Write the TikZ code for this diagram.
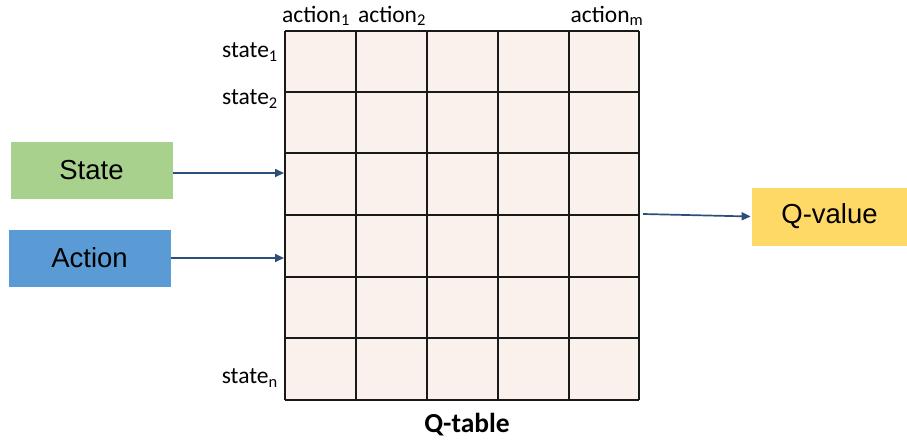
\documentclass[tikz,border=0pt]{standalone}
\usepackage{fontspec}
\setmainfont{Carlito}
\newfontfamily\boxfont{Liberation Sans}
\usetikzlibrary{arrows.meta}
\definecolor{cellfill}{RGB}{251,241,236}
\definecolor{stategreen}{RGB}{169,209,142}
\definecolor{actionblue}{RGB}{91,155,213}
\definecolor{qyellow}{RGB}{255,217,102}
\definecolor{arrowblue}{RGB}{44,78,120}
\tikzset{
  inbox/.style={draw=white, line width=0.8pt, minimum width=163pt, minimum height=58pt,
    inner sep=0pt, font=\boxfont\fontsize{27.5}{30}\selectfont},
  flow/.style={draw=arrowblue, line width=1.7pt, -{Triangle[length=9pt,width=8pt]}},
  gridline/.style={draw=black!90, line width=1.6pt},
  lbl/.style={font=\fontsize{23.5}{26}\selectfont, inner sep=0pt}
}
\begin{document}
\begin{tikzpicture}[x=1pt,y=-1pt]
\useasboundingbox (0,0) rectangle (907,445);
% table body
\fill[cellfill] (285,31) rectangle (639,400);
\foreach \x in {285,356,427,498,569,639} \draw[gridline] (\x,31) -- (\x,400);
\foreach \y in {31,92,153,215,277,338,400} \draw[gridline] (285,\y) -- (639,\y);
\coordinate (tabS) at (284,173);
\coordinate (tabA) at (284,258);
\coordinate (tabQ) at (643,214);
% column and row headings
\node[lbl] (a1) at (316,16) {action\textsubscript{1}};
\node[lbl] (a2) at (392,16) {action\textsubscript{2}};
\node[lbl] (am) at (607,16) {action\textsubscript{m}};
\node[lbl, anchor=east] (s1) at (278,52) {state\textsubscript{1}};
\node[lbl, anchor=east] (s2) at (278,99) {state\textsubscript{2}};
\node[lbl, anchor=east] (sn) at (278,378) {state\textsubscript{n}};
\node[font=\bfseries\fontsize{27.5}{30}\selectfont, inner sep=0pt] (qt) at (467,425) {Q-table};
% inputs and output
\node[inbox, fill=stategreen] (state) at (91.5,170) {State};
\node[inbox, fill=actionblue] (action) at (89.5,258) {Action};
\node[inbox, fill=qyellow, minimum width=157pt, minimum height=59pt] (qv) at (829.5,216.5) {Q-value};
\draw[flow] (state.east |- tabS) -- (tabS);
\draw[flow] (action.east |- tabA) -- (tabA);
\draw[flow] (tabQ) -- (qv.west);
\end{tikzpicture}
\end{document}
